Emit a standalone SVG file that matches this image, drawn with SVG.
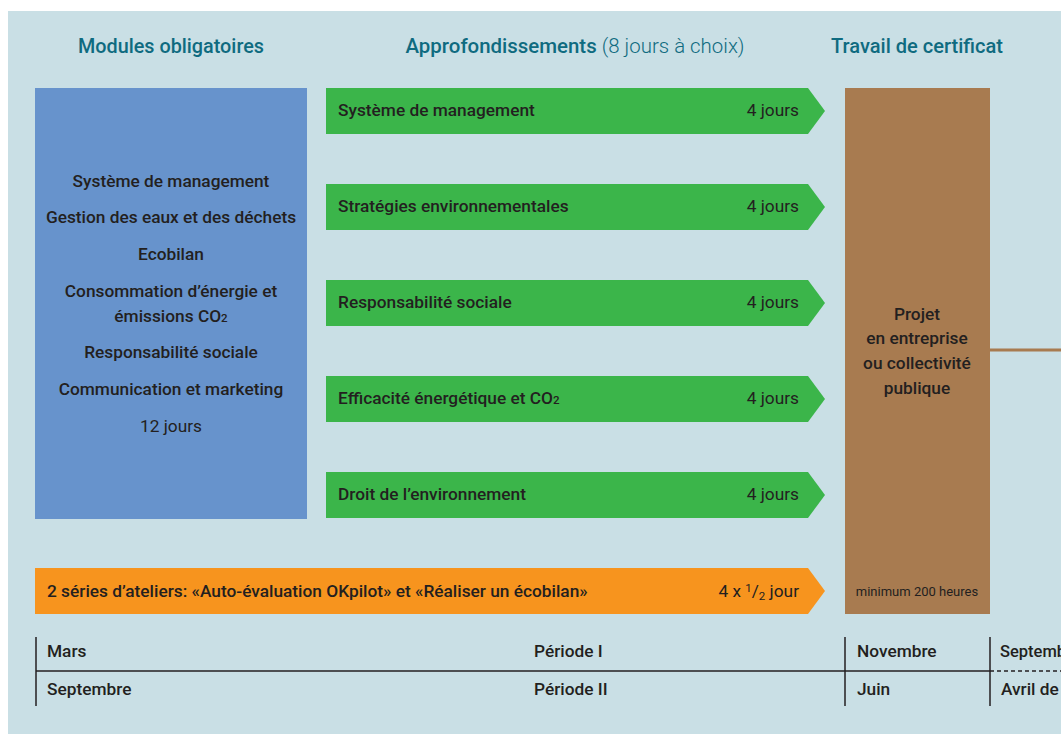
<svg xmlns="http://www.w3.org/2000/svg" width="1061" height="734" viewBox="0 0 1061 734">
<style>
.t{font-family:Roboto,"Liberation Sans","DejaVu Sans",sans-serif;font-weight:500;fill:#231f20;font-size:17.3px}
.l{font-weight:400}
.c{text-anchor:middle}
.r{text-anchor:end}
.s{font-size:13px;font-weight:400}
.h{font-family:Roboto,"Liberation Sans","DejaVu Sans",sans-serif;font-weight:500;fill:#0f6b80;font-size:20px;text-anchor:middle}
.g{fill:#3bb54a}
.ln{stroke:#231f20;stroke-width:1.5;fill:none}
</style>
<rect x="8" y="11" width="1053" height="723" fill="#c9dfe5"/>
<g id="titles">
<text class="h" x="171" y="53" textLength="186" lengthAdjust="spacingAndGlyphs">Modules obligatoires</text>
<text class="h" x="575" y="53" textLength="339" lengthAdjust="spacingAndGlyphs">Approfondissements <tspan font-weight="300">(8 jours à choix)</tspan></text>
<text class="h" x="917" y="53" textLength="172" lengthAdjust="spacingAndGlyphs">Travail de certificat</text>
</g>
<g id="modules">
<rect x="35" y="88" width="272" height="431" fill="#6793cc"/>
<text class="t c" x="171" y="187">Système de management</text>
<text class="t c" x="171" y="223">Gestion des eaux et des déchets</text>
<text class="t c" x="171" y="260">Ecobilan</text>
<text class="t c" x="171" y="297">Consommation d’énergie et</text>
<text class="t c" x="171" y="322">émissions CO<tspan font-size="11.5">2</tspan></text>
<text class="t c" x="171" y="358">Responsabilité sociale</text>
<text class="t c" x="171" y="395">Communication et marketing</text>
<text class="t c l" x="171" y="432">12 jours</text>
</g>
<g id="a1">
<polygon class="g" points="326,88 808,88 825,111 808,134 326,134"/>
<text class="t" x="338" y="116">Système de management</text>
<text class="t r l" x="799" y="116">4 jours</text>
</g>
<g id="a2">
<polygon class="g" points="326,184 808,184 825,207 808,230 326,230"/>
<text class="t" x="338" y="212">Stratégies environnementales</text>
<text class="t r l" x="799" y="212">4 jours</text>
</g>
<g id="a3">
<polygon class="g" points="326,280 808,280 825,303 808,326 326,326"/>
<text class="t" x="338" y="308">Responsabilité sociale</text>
<text class="t r l" x="799" y="308">4 jours</text>
</g>
<g id="a4">
<polygon class="g" points="326,376 808,376 825,399 808,422 326,422"/>
<text class="t" x="338" y="404">Efficacité énergétique et CO<tspan font-size="11.5">2</tspan></text>
<text class="t r l" x="799" y="404">4 jours</text>
</g>
<g id="a5">
<polygon class="g" points="326,472 808,472 825,495 808,518 326,518"/>
<text class="t" x="338" y="500">Droit de l’environnement</text>
<text class="t r l" x="799" y="500">4 jours</text>
</g>
<g id="ateliers">
<polygon fill="#f7941e" points="35,568 808,568 825,591 808,614 35,614"/>
<text class="t" x="47" y="597">2 séries d’ateliers: «Auto-évaluation OKpilot» et «Réaliser un écobilan»</text>
<text class="t r l" x="799" y="597">4 x <tspan font-size="11.5" dy="-5">1</tspan><tspan dy="5">/</tspan><tspan font-size="11.5" dy="3">2</tspan><tspan dy="-3"> jour</tspan></text>
</g>
<g id="certificat">
<rect x="845" y="88" width="145" height="526" fill="#a87b50"/>
<text class="t c" x="917" y="320">Projet</text>
<text class="t c" x="917" y="344">en entreprise</text>
<text class="t c" x="917" y="369">ou collectivité</text>
<text class="t c" x="917" y="394">publique</text>
<text class="t c s" x="917" y="596">minimum 200 heures</text>
</g>
<g id="connectors">
<line x1="990" y1="350" x2="1061" y2="350" stroke="#a87b50" stroke-width="3"/>
</g>
<g id="timeline">
<line class="ln" x1="36" y1="637" x2="36" y2="706"/>
<line class="ln" x1="845" y1="637" x2="845" y2="706"/>
<line class="ln" x1="990" y1="637" x2="990" y2="706"/>
<line class="ln" x1="36" y1="671" x2="990" y2="671"/>
<line class="ln" x1="990" y1="671" x2="1061" y2="671" stroke-dasharray="4,3"/>
<text class="t" x="47" y="657">Mars</text>
<text class="t" x="534" y="657">Période I</text>
<text class="t" x="857" y="657">Novembre</text>
<text class="t" x="1000" y="657" style="font-size:16.5px">Septemb</text>
<text class="t" x="47" y="695">Septembre</text>
<text class="t" x="534" y="695">Période II</text>
<text class="t" x="857" y="695">Juin</text>
<text class="t" x="1001" y="695">Avril de</text>
</g>
</svg>
